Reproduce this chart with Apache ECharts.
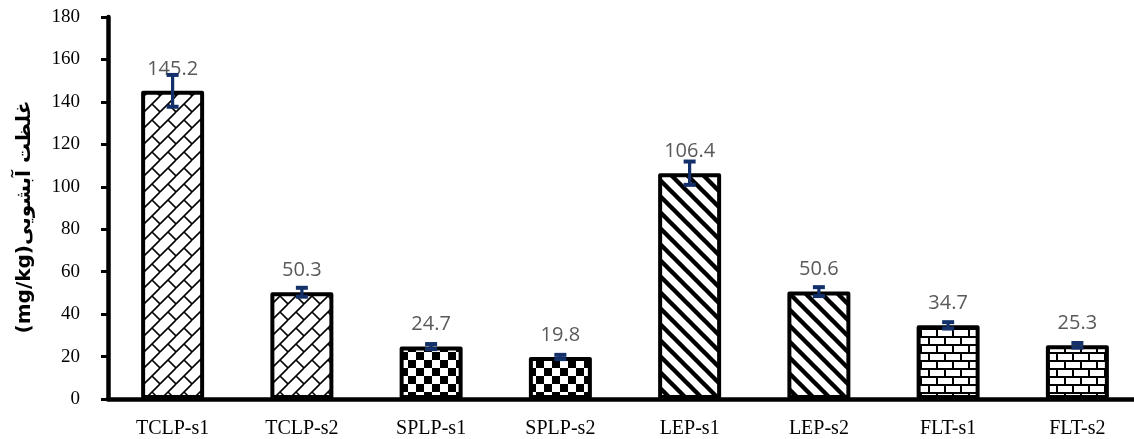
<!DOCTYPE html>
<html>
<head>
<meta charset="utf-8">
<script src="https://cdn.jsdelivr.net/npm/echarts@6/dist/echarts.min.js"></script>
<style>
  html, body { margin: 0; padding: 0; background: #ffffff; overflow: hidden; }
  #chart { width: 1142px; height: 439px; }
</style>
</head>
<body>
<div id="chart"></div>
<script>
// Leaching concentration per test method and sample
const categories = ['TCLP-s1', 'TCLP-s2', 'SPLP-s1', 'SPLP-s2', 'LEP-s1', 'LEP-s2', 'FLT-s1', 'FLT-s2'];
const values = [145.2, 50.3, 24.7, 19.8, 106.4, 50.6, 34.7, 25.3];
const errors = [7.5, 2.1, 1.2, 1.0, 5.5, 2.1, 1.5, 1.1];
const fillKinds = ['diagBrick', 'diagBrick', 'checker', 'checker', 'stripe', 'stripe', 'brick', 'brick'];
const yMin = 0;
const yMax = 180;
const yStep = 20;
const yAxisTitle = '(mg/kg)غلظت آبشویی';

const NAVY = '#13306a';
const TILE = 16;

// Monochrome fill tiles
function makeTile(draw) {
  const c = document.createElement('canvas');
  c.width = TILE; c.height = TILE;
  const ctx = c.getContext('2d');
  ctx.fillStyle = '#ffffff';
  ctx.fillRect(0, 0, TILE, TILE);
  ctx.fillStyle = '#000000';
  ctx.strokeStyle = '#000000';
  draw(ctx);
  return c;
}

const tiles = {
  checker: makeTile(ctx => {
    ctx.fillRect(0, 0, 8, 8);
    ctx.fillRect(8, 8, 8, 8);
  }),
  brick: makeTile(ctx => {
    ctx.fillRect(0, 0, 16, 2);
    ctx.fillRect(0, 8, 16, 2);
    ctx.fillRect(0, 2, 2, 6);
    ctx.fillRect(8, 10, 2, 6);
  }),
  stripe: makeTile(ctx => {
    ctx.lineWidth = 4.4;
    for (const dx of [-16, 0, 16]) {
      ctx.beginPath();
      ctx.moveTo(dx - 4, -4);
      ctx.lineTo(dx + 20, 20);
      ctx.stroke();
    }
  }),
  diagBrick: makeTile(ctx => {
    ctx.lineWidth = 1.6;
    for (const ox of [-16, 0, 16]) {
      for (const oy of [-16, 0, 16]) {
        ctx.beginPath();
        ctx.moveTo(ox, oy + 16);
        ctx.lineTo(ox + 16, oy);
        ctx.moveTo(ox + 8, oy + 8);
        ctx.lineTo(ox + 16, oy + 16);
        ctx.stroke();
      }
    }
  })
};

const barData = values.map((v, i) => ({
  value: v,
  itemStyle: { color: { image: tiles[fillKinds[i]], repeat: 'repeat' } }
}));

const errData = values.map((v, i) => [i, v, errors[i]]);

const chart = echarts.init(document.getElementById('chart'), null, { renderer: 'canvas' });

chart.setOption({
  backgroundColor: '#ffffff',
  animation: false,
  grid: { left: 108, right: 0, top: 17, bottom: 40, containLabel: false },
  xAxis: {
    type: 'category',
    data: categories,
    axisLine: { lineStyle: { color: '#000000', width: 4.5 } },
    axisTick: { show: false },
    axisLabel: {
      color: '#000000',
      fontFamily: 'Liberation Serif',
      fontSize: 20,
      margin: 20
    },
    splitLine: { show: false }
  },
  yAxis: {
    type: 'value',
    min: yMin,
    max: yMax,
    interval: yStep,
    name: yAxisTitle,
    nameLocation: 'middle',
    nameRotate: 90,
    nameGap: 73,
    nameTextStyle: {
      color: '#000000',
      fontFamily: 'DejaVu Sans',
      fontWeight: 'bold',
      fontSize: 20,
      padding: [0, 18, 0, 0]
    },
    axisLine: { show: true, lineStyle: { color: '#000000', width: 4.5 } },
    axisTick: { show: true, length: 7, lineStyle: { color: '#000000', width: 3 } },
    axisLabel: {
      color: '#000000',
      fontFamily: 'Liberation Serif',
      fontSize: 19,
      margin: 28
    },
    splitLine: { show: false }
  },
  series: [
    {
      type: 'bar',
      data: barData,
      barWidth: 63,
      itemStyle: { borderColor: '#000000', borderWidth: 4, borderJoin: 'round' },
      label: {
        show: true,
        position: 'top',
        distance: 12,
        color: '#595959',
        fontFamily: 'Open Sans',
        fontSize: 20,
        formatter: p => p.value.toFixed(1)
      },
      z: 2
    },
    {
      type: 'custom',
      data: errData,
      encode: { x: 0, y: 1 },
      z: 5,
      renderItem: (params, api) => {
        const idx = api.value(0);
        const v = api.value(1);
        const e = api.value(2);
        const top = api.coord([idx, v + e]);
        const bot = api.coord([idx, v - e]);
        const half = 6;
        const stemStyle = { stroke: NAVY, lineWidth: 3.2 };
        const capStyle = { stroke: NAVY, lineWidth: 4 };
        return {
          type: 'group',
          children: [
            { type: 'line', shape: { x1: top[0], y1: top[1], x2: bot[0], y2: bot[1] }, style: stemStyle },
            { type: 'line', shape: { x1: top[0] - half, y1: top[1], x2: top[0] + half, y2: top[1] }, style: capStyle },
            { type: 'line', shape: { x1: bot[0] - half, y1: bot[1], x2: bot[0] + half, y2: bot[1] }, style: capStyle }
          ]
        };
      }
    }
  ]
});
</script>
</body>
</html>
